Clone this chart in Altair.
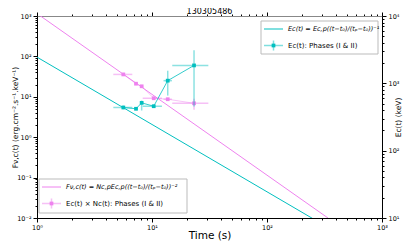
import altair as alt
import pandas as pd

# ---- data ----
t = [5.63, 7.26, 8.13, 10.35, 13.7, 23.2]
t_lo = [4.61, 7.05, 7.9, 8.3, 12.6, 15.0]
t_hi = [6.74, 7.5, 8.4, 12.2, 14.9, 30.9]
ec = [438, 419, 513, 457, 1096, 1845]
ec_lo = [412, 398, 395, 432, 658, 453]
ec_hi = [466, 442, 555, 485, 1540, 3110]
flux = [35.8, 21.1, 18.2, 9.2, 8.7, 6.9]
flux_lo = [33.0, 19.8, 17.0, 8.5, 8.1, 4.8]
flux_hi = [39.0, 22.5, 19.5, 10.0, 9.4, 9.0]

model_t_f = [1, 339]
model_f = [1150, 0.01]
model_t_e = [1, 250]
model_e = [2450, 9.8]

TITLE = "130305486"

CYAN = "#00bfbf"
VIOLET = "#ee82ee"
FONT = "DejaVu Sans"

pts = pd.DataFrame(dict(t=t, t_lo=t_lo, t_hi=t_hi, ec=ec, ec_lo=ec_lo,
                        ec_hi=ec_hi, f=flux, f_lo=flux_lo, f_hi=flux_hi))
mf = pd.DataFrame(dict(t=model_t_f, v=model_f))
me = pd.DataFrame(dict(t=model_t_e, v=model_e))

SUP = {-2: "⁻²", -1: "⁻¹", 0: "⁰", 1: "¹", 2: "²", 3: "³", 4: "⁴"}


def label_expr(exps):
    e = "round(log(datum.value)/LN10)"
    s = "''"
    for k in exps:
        s = f"({e} == {k} ? '10{SUP[k]}' : {s})"
    return f"abs(log(datum.value)/LN10 - {e}) > 0.001 ? '' : {s}"


def minor(lo, hi):
    vals = []
    for k in range(lo, hi):
        for m in range(1, 10):
            vals.append(round(m * 10 ** k, 6))
    vals.append(10 ** hi)
    return vals


xvals = minor(0, 3)
yl_vals = minor(-2, 3)
yr_vals = minor(1, 4)

W, H = 345, 202

tick_cond = {"condition": {"test": "abs(log(datum.value)/LN10 - round(log(datum.value)/LN10)) < 0.001", "value": 4}, "value": 2}

xscale = alt.Scale(type="log", domain=[1, 1000], nice=False)
ylscale = alt.Scale(type="log", domain=[0.01, 1000], nice=False)
yrscale = alt.Scale(type="log", domain=[10, 10000], nice=False)

axis_common = dict(labelFont=FONT, titleFont=FONT, labelFontSize=6.5, grid=False,
                   domainColor="black", tickColor="black", labelColor="black",
                   titleColor="black", titleFontWeight="normal", tickSize=tick_cond)

xaxis = alt.Axis(values=xvals, labelExpr=label_expr([0, 1, 2, 3]), title="Time (s)",
                 titleFontSize=10.5, labelPadding=2, titleX=W / 2, titleY=17,
                 titleBaseline="middle", titleAlign="center",
                 labelFlush=False, **axis_common)
xaxis_top = alt.Axis(values=xvals, orient="top", labels=False, title=None,
                     grid=False, domainColor="#888888", tickColor="black", tickSize=tick_cond)
ylaxis = alt.Axis(values=yl_vals, labelExpr=label_expr([-2, -1, 0, 1, 2, 3]),
                  title="Fν,c(t) (erg.cm⁻².s⁻¹.keV⁻¹)", titleFontSize=7.5,
                  titleX=-22, titleY=H / 2, titleAngle=270, titleAlign="center",
                  titleBaseline="middle",
                  orient="left", labelFlush=False, **axis_common)
yraxis = alt.Axis(values=yr_vals, labelExpr=label_expr([1, 2, 3, 4]),
                  title="Ec(t) (keV)", titleFontSize=7.5,
                  titleX=16, titleY=H / 2, titleAngle=270, titleAlign="center",
                  titleBaseline="middle",
                  orient="right", labelFlush=False, **axis_common)

X = alt.X("t:Q", scale=xscale, axis=xaxis)
Xtop = alt.X("t:Q", scale=xscale, axis=xaxis_top)

# ---- left (flux) group ----
f_line = alt.Chart(mf).mark_line(color=VIOLET, strokeWidth=1, clip=True).encode(
    x=X, y=alt.Y("v:Q", scale=ylscale, axis=ylaxis))
f_xerr = alt.Chart(pts).mark_rule(color=VIOLET, opacity=0.5, strokeWidth=1.5).encode(
    x="t_lo:Q", x2="t_hi:Q", y="f:Q")
f_yerr = alt.Chart(pts).mark_rule(color=VIOLET, opacity=0.5, strokeWidth=1.5).encode(
    x="t:Q", y="f_lo:Q", y2="f_hi:Q")
f_conn = alt.Chart(pts).mark_line(color=VIOLET, opacity=0.6, strokeWidth=0.8).encode(
    x="t:Q", y="f:Q")
f_pts = alt.Chart(pts).mark_point(shape="square", filled=True, size=14, color=VIOLET,
                                  opacity=1).encode(x="t:Q", y="f:Q")
left = alt.layer(f_line, f_xerr, f_yerr, f_conn, f_pts)

# ---- right (Ec) group ----
e_line = alt.Chart(me).mark_line(color=CYAN, strokeWidth=1, clip=True).encode(
    x=Xtop, y=alt.Y("v:Q", scale=yrscale, axis=yraxis))
e_xerr = alt.Chart(pts).mark_rule(color=CYAN, opacity=0.45, strokeWidth=1.5).encode(
    x="t_lo:Q", x2="t_hi:Q", y="ec:Q")
e_yerr = alt.Chart(pts).mark_rule(color=CYAN, opacity=0.45, strokeWidth=1.5).encode(
    x="t:Q", y="ec_lo:Q", y2="ec_hi:Q")
e_conn = alt.Chart(pts).mark_line(color=CYAN, strokeWidth=0.8).encode(
    x="t:Q", y="ec:Q")
e_pts = alt.Chart(pts).mark_point(shape="square", filled=True, size=14, color=CYAN,
                                  opacity=1).encode(x="t:Q", y="ec:Q")
right = alt.layer(e_line, e_xerr, e_yerr, e_conn, e_pts)

# ---- hand-drawn legends (pixel positions inside the plot area) ----
one = alt.Data(values=[{}])


def legend(x0, x1, y0, y1, color, line_label, pt_label):
    box = alt.Chart(one).mark_rect(fill="white", stroke="#bbbbbb", strokeWidth=1).encode(
        x=alt.value(x0), x2=alt.value(x1), y=alt.value(y0), y2=alt.value(y1))
    ya = y0 + 8
    yb = y0 + 24.5
    sw0, sw1 = x0 + 3, x0 + 22
    cx = (sw0 + sw1) / 2
    sw = alt.Chart(one).mark_rule(color=color, strokeWidth=1).encode(
        x=alt.value(sw0), x2=alt.value(sw1), y=alt.value(ya))
    hb = alt.Chart(one).mark_rule(color=color, opacity=0.5, strokeWidth=1.5).encode(
        x=alt.value(sw0), x2=alt.value(sw1), y=alt.value(yb))
    vb = alt.Chart(one).mark_rule(color=color, opacity=0.5, strokeWidth=1.5).encode(
        x=alt.value(cx), y=alt.value(yb - 5), y2=alt.value(yb + 5))
    pt = alt.Chart(one).mark_point(shape="square", filled=True, size=14, color=color,
                                   opacity=1).encode(x=alt.value(cx), y=alt.value(yb))
    t1 = alt.Chart(one).mark_text(align="left", baseline="middle", font=FONT, fontSize=6.5,
                                  fontStyle="italic").encode(
        x=alt.value(x0 + 27), y=alt.value(ya), text=alt.value(line_label))
    t2 = alt.Chart(one).mark_text(align="left", baseline="middle", font=FONT, fontSize=7).encode(
        x=alt.value(x0 + 27), y=alt.value(yb), text=alt.value(pt_label))
    return [box, sw, hb, vb, pt, t1, t2]


leg1 = legend(224, 341, 5, 38, CYAN, "Ec(t) = Ec,p((t−t₀)/(tₚ−t₀))⁻¹", "Ec(t): Phases (I & II)")
leg2 = legend(2, 150, 163, 197, VIOLET, "Fν,c(t) = Nc,pEc,p((t−t₀)/(tₚ−t₀))⁻²",
              "Ec(t) × Nc(t): Phases (I & II)")
title_mark = alt.Chart(one).mark_text(align="center", baseline="alphabetic", font=FONT,
                                      fontSize=8, color="black").encode(
    x=alt.value(W / 2), y=alt.value(-2), text=alt.value(TITLE))
legends = alt.layer(*leg1, *leg2, title_mark)

chart = alt.layer(left, right, legends).resolve_scale(y="independent").resolve_axis(
    x="independent").properties(
    width=W, height=H,
    autosize=alt.AutoSizeParams(type="none"),
    padding={"left": 29, "top": 8, "right": 25, "bottom": 23},
).configure_view(stroke=None)

chart.save("out.html", embed_options={"renderer": "svg", "actions": False})
